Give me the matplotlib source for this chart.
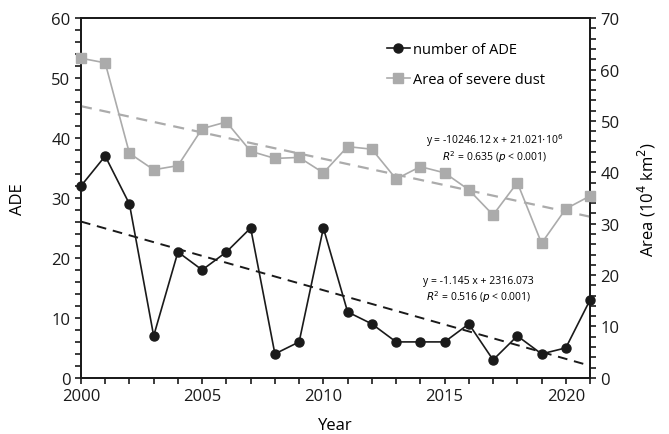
import numpy as np
import matplotlib
matplotlib.use('Agg')
import matplotlib.pyplot as plt
from matplotlib.ticker import MultipleLocator

plt.rcParams['font.family'] = ['Open Sans', 'DejaVu Sans']

# Data
years = list(range(2000, 2022))
ade = [32, 37, 29, 7, 21, 18, 21, 25, 4, 6, 25, 11, 9, 6, 6, 6, 9, 3, 7, 4, 5, 13]
area = [62.2, 61.3, 43.7, 40.5, 41.3, 48.5, 49.8, 44.1, 42.7, 42.9, 39.9, 45.0,
        44.5, 38.7, 41.1, 39.9, 36.6, 31.7, 38.0, 26.2, 32.9, 35.4]

# trend coefficients (slope, intercept) as printed on the chart
ade_fit = (-1.145, 2316.073)
area_fit = (-10246.12 / 1e4, 21.021e6 / 1e4)

fig = plt.figure(figsize=(6.69, 4.35), dpi=100)
ax = fig.add_axes([0.121, 0.129, 0.761, 0.827])
ax2 = ax.twinx()

yrs = np.array(years)
ax.plot(years, ade, color='#1a1a1a', marker='o', markersize=6.5, lw=1.2,
        label='number of ADE', clip_on=False, zorder=5)
ax.plot(yrs, ade_fit[0] * yrs + ade_fit[1], color='#1a1a1a', ls=(0, (5, 3.5)), lw=1.4)

ax2.plot(years, area, color='#ababab', marker='s', markersize=6.5, lw=1.2,
         label='Area of severe dust', clip_on=False, zorder=5)
ax2.plot(yrs, area_fit[0] * yrs + area_fit[1], color='#ababab', ls=(0, (5, 3.5)), lw=1.6)

ax.set_xlim(2000, 2021)
ax.set_ylim(0, 60)
ax2.set_ylim(0, 70)

ax.xaxis.set_major_locator(MultipleLocator(5))
ax.xaxis.set_minor_locator(MultipleLocator(1))
ax.yaxis.set_major_locator(MultipleLocator(10))
ax.yaxis.set_minor_locator(MultipleLocator(2))
ax2.yaxis.set_major_locator(MultipleLocator(10))
ax2.yaxis.set_minor_locator(MultipleLocator(2))

for a in (ax, ax2):
    for s in a.spines.values():
        s.set_linewidth(1.3)
        s.set_color('#1a1a1a')
    a.tick_params(which='both', direction='out', length=4, width=1.2,
                  labelsize=12, colors='#1a1a1a')

ax.set_xlabel('Year', fontsize=12, labelpad=9)
ax.set_ylabel('ADE', fontsize=12, labelpad=18)
ax2.set_ylabel('Area (10$^4$ km$^2$)', fontsize=12, labelpad=12)

ax.text(17.07 + 2000, 39.8, 'y = -10246.12 x + 21.021$\\cdot$10$^6$', fontsize=7.5,
        ha='center', va='center')
ax.text(17.07 + 2000, 37.0, '$R^2$ = 0.635 ($p$ < 0.001)', fontsize=7.5,
        ha='center', va='center')
ax.text(2016.4, 16.2, 'y = -1.145 x + 2316.073', fontsize=7.5, ha='center', va='center')
ax.text(2016.4, 13.7, '$R^2$ = 0.516 ($p$ < 0.001)', fontsize=7.5, ha='center', va='center')

h1, l1 = ax.get_legend_handles_labels()
h2, l2 = ax2.get_legend_handles_labels()
ax2.legend(h1 + h2, l1 + l2, loc='upper left', bbox_to_anchor=(0.575, 0.97),
           frameon=False, fontsize=10.5, handlelength=1.6, handletextpad=0.2,
           labelspacing=1.0)

fig.savefig('out.png', dpi=100)
